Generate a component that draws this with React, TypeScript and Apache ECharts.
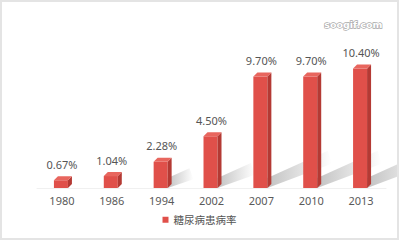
import React, { useEffect, useRef } from "react";
import * as echarts from "echarts";

const categories = ["1980", "1986", "1994", "2002", "2007", "2010", "2013"];
const values = [0.67, 1.04, 2.28, 4.5, 9.7, 9.7, 10.4];
const labels = ["0.67%", "1.04%", "2.28%", "4.50%", "9.70%", "9.70%", "10.40%"];
const seriesName = "糖尿病患病率";

export default function App() {
  const ref = useRef<HTMLDivElement>(null);
  useEffect(() => {
    if (!ref.current) return;
    const chart = echarts.init(ref.current, undefined, { renderer: "svg" });
    const font = "'Noto Sans', 'Noto Sans CJK SC', sans-serif";
    chart.setOption({
      animation: false,
      backgroundColor: "#ffffff",
      grid: { left: 35, right: 11, top: 48, bottom: 50 },
      legend: {
        data: [{ name: seriesName, icon: "rect" }],
        bottom: 8,
        left: "center",
        itemWidth: 6,
        itemHeight: 6,
        itemGap: 4,
        textStyle: { color: "#555", fontSize: 10.5, fontFamily: font },
      },
      graphic: [
        {
          type: "text",
          right: 14,
          top: 17,
          style: {
            text: "soogif.com",
            fill: "#ffffff",
            stroke: "#a8a8a8",
            lineWidth: 1.3,
            font: "bold 9.5px 'DejaVu Sans', sans-serif",
          },
        },
      ],
      xAxis: {
        type: "category",
        data: categories,
        axisLine: { show: true, lineStyle: { color: "#f0f0f0" } },
        axisTick: { show: false },
        axisLabel: { color: "#5a5a5a", fontSize: 11, fontFamily: font, margin: 7 },
      },
      yAxis: {
        type: "value",
        min: 0,
        max: 12,
        show: false,
        splitLine: { show: false },
      },
      series: [
        {
          name: seriesName,
          type: "custom",
          itemStyle: { color: "#e0504a" },
          data: values.map((v, i) => [i, v]),
          renderItem: (params: any, api: any) => {
            const idx = api.value(0);
            const val = api.value(1);
            const base = api.coord([idx, 0]);
            const top = api.coord([idx, val]);
            const cx = base[0];
            const fl = cx - 8;
            const fr = cx + 6;
            const d = 4;
            const children: any[] = [];
            if (val > 2) {
              const len = Math.min(62, 10 + val * 5.2);
              children.push({
                type: "polygon",
                shape: {
                  points: [
                    [fr, base[1]],
                    [fr, base[1] - 10],
                    [fr + len, base[1] - 10 - len * 0.45],
                    [fr + len + 4, base[1] - len * 0.4],
                  ],
                },
                style: {
                  fill: new echarts.graphic.LinearGradient(0, 0, 1, 0, [
                    { offset: 0, color: "rgba(120,120,120,0.45)" },
                    { offset: 1, color: "rgba(120,120,120,0)" },
                  ]),
                },
              });
            }
            children.push(
              {
                type: "rect",
                shape: { x: fl, y: top[1], width: fr - fl, height: base[1] - top[1] },
                style: { fill: "#e0504a" },
              },
              {
                type: "polygon",
                shape: {
                  points: [
                    [fr, top[1]],
                    [fr + d, top[1] - d],
                    [fr + d, base[1] - d],
                    [fr, base[1]],
                  ],
                },
                style: { fill: "#b43a34" },
              },
              {
                type: "polygon",
                shape: {
                  points: [
                    [fl, top[1]],
                    [fl + d, top[1] - d],
                    [fr + d, top[1] - d],
                    [fr, top[1]],
                  ],
                },
                style: { fill: "#e8665e" },
              },
              {
                type: "text",
                style: {
                  text: labels[idx],
                  x: cx,
                  y: top[1] - 16,
                  align: "center",
                  verticalAlign: "middle",
                  fill: "#555",
                  font: "11px " + font,
                },
              }
            );
            return { type: "group", children };
          },
        },
      ],
    });
    return () => chart.dispose();
  }, []);
  return (
    <div
      style={{
        position: "fixed",
        left: 0,
        top: 0,
        width: 399,
        height: 240,
        boxSizing: "border-box",
        border: "2px solid #e4e4e4",
        background: "#fff",
      }}
    >
      <div ref={ref} style={{ width: 395, height: 236 }} />
    </div>
  );
}
